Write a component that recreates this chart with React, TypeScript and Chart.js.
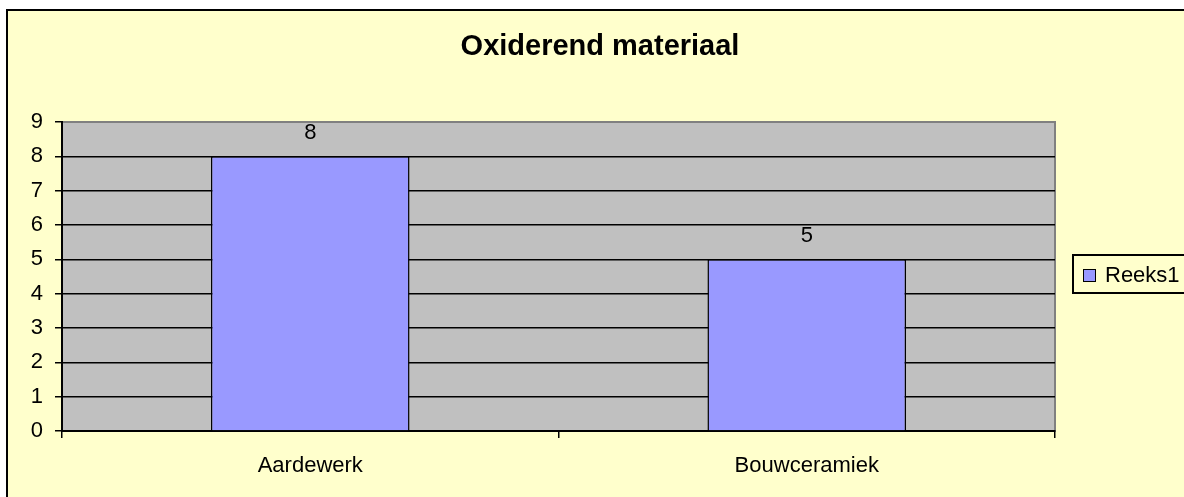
import React, { useEffect, useRef } from "react";
import { Chart, registerables } from "chart.js";

Chart.register(...registerables);

const titleText = "Oxiderend materiaal";
const categories = ["Aardewerk", "Bouwceramiek"];
const seriesName = "Reeks1";
const values = [8, 5];
const yMin = 0;
const yMax = 9;
const yStep = 1;

const FONT = "'Liberation Sans', Arial, Helvetica, sans-serif";
const W = 1184;
const H = 497;

const decorPlugin = {
  id: "decor",
  beforeDraw(chart: any) {
    const ctx = chart.ctx;
    const a = chart.chartArea;
    ctx.save();
    ctx.fillStyle = "#FFFFFF";
    ctx.fillRect(0, 0, W, H);
    ctx.fillStyle = "#FFFFCC";
    ctx.fillRect(6, 9, W, H);
    ctx.fillStyle = "#000000";
    ctx.fillRect(6, 9, 2, H);
    ctx.fillRect(6, 9, W, 2);
    // plot area
    ctx.fillStyle = "#C0C0C0";
    ctx.fillRect(a.left, a.top, a.right - a.left, a.bottom - a.top);
    ctx.strokeStyle = "#808080";
    ctx.lineWidth = 2;
    ctx.strokeRect(a.left, a.top, a.right - a.left, a.bottom - a.top);
    ctx.restore();
  },
  afterDatasetsDraw(chart: any) {
    const ctx = chart.ctx;
    ctx.save();
    // value labels
    const meta = chart.getDatasetMeta(0);
    ctx.fillStyle = "#000000";
    ctx.font = `22px ${FONT}`;
    ctx.textAlign = "center";
    ctx.textBaseline = "middle";
    meta.data.forEach((bar: any, i: number) => {
      ctx.fillText(String(values[i]), bar.x, bar.y - 23);
    });
    // title
    ctx.font = `bold 29px ${FONT}`;
    ctx.fillText(titleText, 600, 47);
    // legend
    ctx.fillStyle = "#FFFFCC";
    ctx.fillRect(1073, 255, 140, 38);
    ctx.strokeStyle = "#000000";
    ctx.lineWidth = 2;
    ctx.strokeRect(1073, 255, 140, 38);
    ctx.fillStyle = "#9999FF";
    ctx.fillRect(1083.5, 269.5, 12, 12);
    ctx.lineWidth = 1;
    ctx.strokeRect(1083.5, 269.5, 12, 12);
    ctx.fillStyle = "#000000";
    ctx.font = `22px ${FONT}`;
    ctx.textAlign = "left";
    ctx.fillText(seriesName, 1105, 276);
    ctx.restore();
  },
};

export default function App() {
  const ref = useRef<HTMLCanvasElement | null>(null);
  useEffect(() => {
    if (!ref.current) return;
    const chart = new Chart(ref.current, {
      type: "bar",
      data: {
        labels: categories,
        datasets: [
          {
            label: seriesName,
            data: values,
            backgroundColor: "#9999FF",
            borderColor: "#000000",
            borderWidth: 1.5,
            barPercentage: 0.4,
            categoryPercentage: 1,
          },
        ],
      },
      options: {
        responsive: false,
        maintainAspectRatio: false,
        animation: false,
        layout: { padding: { left: 0, top: 122, right: 129, bottom: 0 } },
        plugins: {
          legend: { display: false },
          title: { display: false },
          tooltip: { enabled: false },
        },
        scales: {
          x: {
            offset: true,
            grid: {
              offset: true,
              drawOnChartArea: false,
              drawTicks: true,
              tickLength: 7,
              tickColor: "#000000",
              color: "#000000",
              lineWidth: 1.5,
            },
            border: { display: true, color: "#000000", width: 2 },
            ticks: {
              color: "#000000",
              font: { family: FONT, size: 22 },
              padding: 15,
              maxRotation: 0,
              autoSkip: false,
            },
            afterFit(scale: any) {
              scale.height = 66;
            },
          },
          y: {
            min: yMin,
            max: yMax,
            grid: {
              drawTicks: true,
              tickLength: 7,
              tickColor: "#000000",
              lineWidth: 1.5,
              color: (c: any) => (c.tick && c.tick.value === yMax ? "#808080" : "#000000"),
            },
            border: { display: true, color: "#000000", width: 2 },
            ticks: {
              stepSize: yStep,
              color: "#000000",
              font: { family: FONT, size: 22 },
              padding: 12,
              autoSkip: false,
            },
            afterFit(scale: any) {
              scale.width = 62;
            },
          },
        },
      },
      plugins: [decorPlugin],
    });
    return () => chart.destroy();
  }, []);
  return (
    <div style={{ position: "fixed", left: 0, top: 0, width: W, height: H }}>
      <canvas ref={ref} width={W} height={H} style={{ display: "block" }} />
    </div>
  );
}
